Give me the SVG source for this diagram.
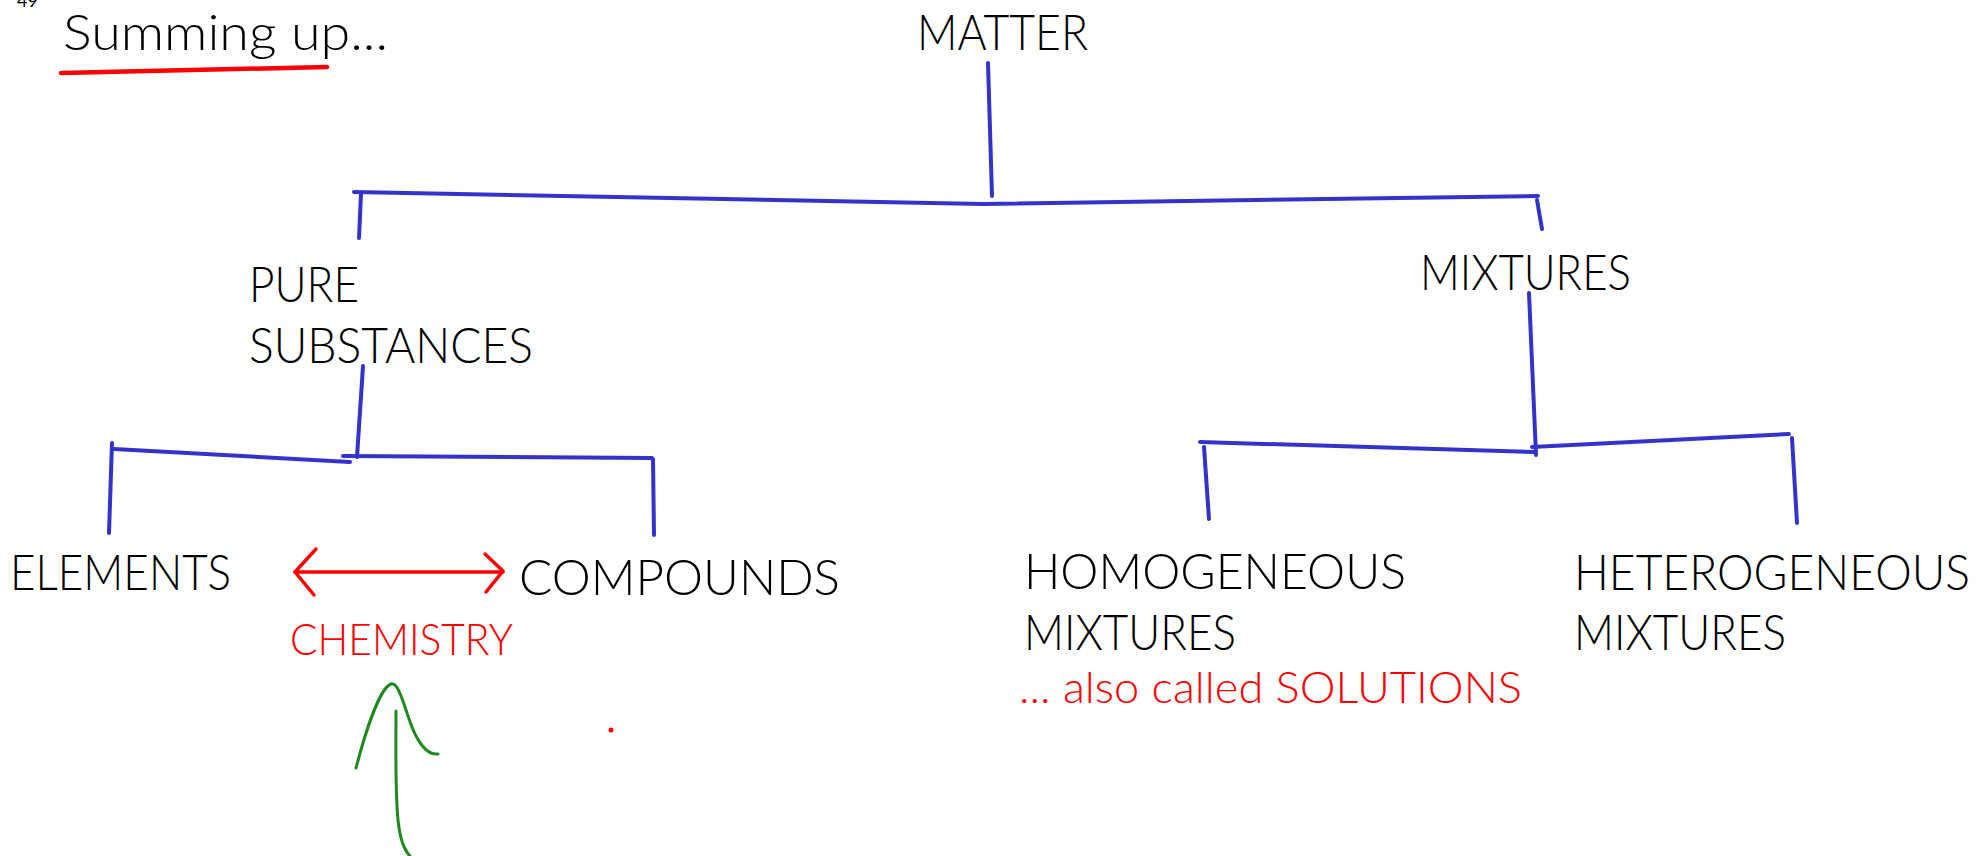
<svg xmlns="http://www.w3.org/2000/svg" width="1980" height="856" viewBox="0 0 1980 856">
<style>
text{font-family:"Lato","Liberation Sans","DejaVu Sans",sans-serif;font-weight:300;}
.t{font-size:49px;fill:#000;}
.r{font-size:43px;fill:#ff0000;}
.b{fill:none;stroke:#3333cc;stroke-width:4;stroke-linecap:round;stroke-linejoin:round;}
.rl{fill:none;stroke:#ff0000;stroke-width:3.5;stroke-linecap:round;stroke-linejoin:round;}
.g{fill:none;stroke:#1e8a1e;stroke-width:3;stroke-linecap:round;stroke-linejoin:round;}
</style>
<rect width="1980" height="856" fill="#ffffff"/>
<g id="page-number"><text x="17" y="7" style="font-size:18px;font-weight:400" fill="#000">49</text></g>
<g id="title">
<text class="t" x="63" y="50" textLength="325" lengthAdjust="spacingAndGlyphs">Summing up...</text>
<path class="rl" d="M61,73 L327,67" style="stroke-width:4.5"/>
</g>
<g id="matter"><text class="t" x="917" y="50" textLength="171" lengthAdjust="spacingAndGlyphs">MATTER</text></g>
<g id="pure-substances">
<text class="t" x="249" y="302" textLength="110" lengthAdjust="spacingAndGlyphs">PURE</text>
<text class="t" x="249" y="363" textLength="284" lengthAdjust="spacingAndGlyphs">SUBSTANCES</text>
</g>
<g id="mixtures"><text class="t" x="1420" y="290" textLength="211" lengthAdjust="spacingAndGlyphs">MIXTURES</text></g>
<g id="elements"><text class="t" x="10" y="590" textLength="221" lengthAdjust="spacingAndGlyphs">ELEMENTS</text></g>
<g id="compounds"><text class="t" x="519" y="595" textLength="321" lengthAdjust="spacingAndGlyphs">COMPOUNDS</text></g>
<g id="chemistry"><text class="r" x="290" y="655" textLength="223" lengthAdjust="spacingAndGlyphs">CHEMISTRY</text></g>
<g id="homogeneous">
<text class="t" x="1024" y="589" textLength="382" lengthAdjust="spacingAndGlyphs">HOMOGENEOUS</text>
<text class="t" x="1024" y="650" textLength="212" lengthAdjust="spacingAndGlyphs">MIXTURES</text>
<text class="r" x="1019" y="703" textLength="503" lengthAdjust="spacingAndGlyphs">... also called SOLUTIONS</text>
</g>
<g id="heterogeneous">
<text class="t" x="1574" y="590" textLength="396" lengthAdjust="spacingAndGlyphs">HETEROGENEOUS</text>
<text class="t" x="1574" y="650" textLength="212" lengthAdjust="spacingAndGlyphs">MIXTURES</text>
</g>
<g id="connectors">
<path class="b" d="M988,63 L992,196"/>
<path class="b" d="M354,192 L983,204 L1538,196"/>
<path class="b" d="M361,194 L359,238"/>
<path class="b" d="M1537,200 L1542,229"/>
<path class="b" d="M363,366 L357,457"/>
<path class="b" d="M112,443 L109,533"/>
<path class="b" d="M114,449 L350,462"/>
<path class="b" d="M343,456 L652,458"/>
<path class="b" d="M653,459 L654,535"/>
<path class="b" d="M1529,293 L1536,455"/>
<path class="b" d="M1200,442 L1534,452"/>
<path class="b" d="M1532,447 L1789,434"/>
<path class="b" d="M1204,447 L1209,519"/>
<path class="b" d="M1792,438 L1797,523"/>
<path class="rl" d="M295,572 L503,572"/>
<path class="rl" d="M316,549 L295,572 L314,595"/>
<path class="rl" d="M485,554 L503,571 L486,592"/>
<path class="g" d="M356,768 C366,730 380,688 391,684 C400,681 406,716 415,734 C422,748 430,755 438,754"/>
<path class="g" d="M396,711 C396,745 395,790 398,820 C400,840 404,850 410,856"/>
<circle cx="611" cy="730" r="2.5" fill="#ff0000"/>
</g>
</svg>
